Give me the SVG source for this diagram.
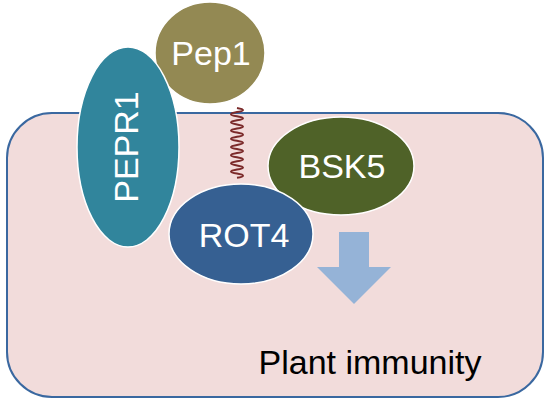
<svg xmlns="http://www.w3.org/2000/svg" width="550" height="402" viewBox="0 0 550 402">
<style>
.lbl{font-family:"Liberation Sans",Arial,sans-serif;font-size:34px;fill:#ffffff;text-anchor:middle}
.node{stroke:#ffffff;stroke-width:1.5}
</style>
<rect width="550" height="402" fill="#ffffff"/>
<g id="cell">
<rect x="7" y="113" width="536" height="284" rx="45" ry="45" fill="#f2dcdb" stroke="#3a68a0" stroke-width="2"/>
</g>
<g id="connectors">
<path d="M237,108 c 8,1.4 8,2.7 0,4.1 c -8,1.4 -8,2.7 0,4.1 c 8,1.4 8,2.7 0,4.1 c -8,1.4 -8,2.7 0,4.1 c 8,1.4 8,2.7 0,4.1 c -8,1.4 -8,2.7 0,4.1 c 8,1.4 8,2.7 0,4.1 c -8,1.4 -8,2.7 0,4.1 c 8,1.4 8,2.7 0,4.1 c -8,1.4 -8,2.7 0,4.1 c 8,1.4 8,2.7 0,4.1 c -8,1.4 -8,2.7 0,4.1 c 8,1.4 8,2.7 0,4.1 c -8,1.4 -8,2.7 0,4.1 c 8,1.4 8,2.7 0,4.1 c -8,1.4 -8,2.7 0,4.1 c 8,1.4 8,2.7 0,4.1" fill="none" stroke="#7b2a2a" stroke-width="2"/>
<polygon id="arrow" points="339,232 369,232 369,267 391,267 354,304 317,267 339,267" fill="#95b3d7"/>
</g>
<g id="pep1">
<ellipse class="node" cx="210" cy="53" rx="55" ry="51" fill="#938953"/>
<text class="lbl" x="211" y="65">Pep1</text>
</g>
<g id="pepr1">
<ellipse class="node" cx="128" cy="147" rx="51" ry="100" fill="#31859c"/>
<text class="lbl" transform="translate(138,147) rotate(-90)" x="0" y="0">PEPR1</text>
</g>
<g id="bsk5">
<ellipse class="node" cx="341" cy="166" rx="73" ry="49" fill="#4f6228"/>
<text class="lbl" x="342" y="178">BSK5</text>
</g>
<g id="rot4">
<ellipse class="node" cx="241" cy="234" rx="72" ry="50" fill="#366092"/>
<text class="lbl" x="244" y="247">ROT4</text>
</g>
<g id="label">
<text x="370" y="374" font-family="&quot;Liberation Sans&quot;,Arial,sans-serif" font-size="34" fill="#000000" text-anchor="middle">Plant immunity</text>
</g>
</svg>
